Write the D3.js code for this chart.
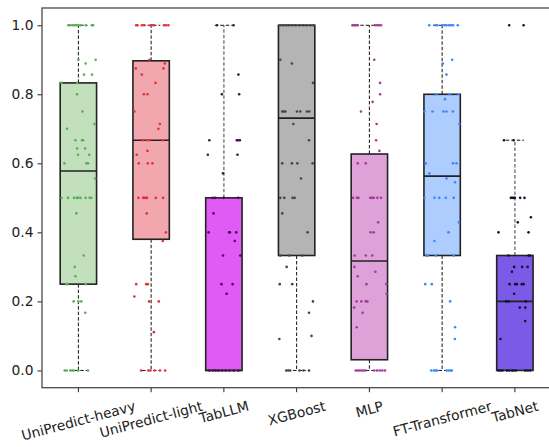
<!DOCTYPE html>
<html><head><meta charset="utf-8">
<script src="https://cdn.jsdelivr.net/npm/d3@7"></script>
<style>body{margin:0;background:#fff}svg{display:block}</style>
</head><body>
<script>
const categories = ["UniPredict-heavy","UniPredict-light","TabLLM","XGBoost","MLP","FT-Transformer","TabNet"];
const q1 =      [0.25, 0.38, 0, 0.333, 0.031, 0.333, 0];
const medians = [0.578, 0.667, 0, 0.731, 0.317, 0.563, 0.2];
const q3 =      [0.833, 0.897, 0.5, 1.0, 0.627, 0.8, 0.333];
const whiskLo = [0, 0, 0, 0, 0, 0, 0];
const whiskHi = [1, 1, 1, 1, 1, 1, 0.667];
const yTicks = [0, 0.2, 0.4, 0.6, 0.8, 1.0];
const fillColors  = ["#c2e0bb","#f2a7ae","#e05af6","#b4b4b4","#dea2d9","#adcdfe","#7a5ae6"];
const pointColors = ["#5aad55","#e0303c","#4a0a55","#454545","#a33a9c","#3a88f5","#121230"];
const whiskerColors = ["#111","#111","#888","#111","#111","#111","#888"];
// points: [value, jitter (fraction of half box width)]
const pts0 = [[1,-0.55],[1,-0.46],[1,-0.31],[1,-0.2],[1,-0.09],[1,0.02],[1,0.13],[1,0.41],[1,0.74],[1,0.81],
[0.9,0],[0.9,0.95],[0.889,0.4],[0.857,0.31],[0.857,0.75],[0.833,-0.93],[0.833,-0.07],[0.8,-0.07],[0.75,0.22],[0.714,0.88],[0.7,-0.62],[0.667,-0.16],[0.667,0.2],[0.667,0.26],[0.643,-0.07],[0.643,0.37],[0.625,-0.02],[0.625,0.6],[0.6,-0.77],[0.6,0.44],[0.6,0.53],[0.556,0.92],
[0.5,-0.93],[0.5,-0.57],[0.5,-0.24],[0.5,-0.09],[0.5,-0.02],[0.5,0.11],[0.5,0.4],[0.5,0.62],[0.5,0.71],
[0.455,-0.11],[0.333,0.29],[0.3,-0.2],[0.273,-0.16],[0.25,-0.66],[0.25,-0.6],[0.25,0.4],[0.2,-0.26],[0.2,0],[0.2,0.16],[0.167,0.38],
[0,-0.75],[0,-0.64],[0,-0.44],[0,-0.33],[0,-0.26],[0,0],[0,0.53]];
const pts1 = [[1,-0.82],[1,-0.75],[1,-0.51],[1,-0.38],[1,-0.02],[1,0.05],[1,0.16],[1,0.71],[1,0.82],[1,0.95],
[0.9,-0.09],[0.889,0.75],[0.875,-0.84],[0.875,0.68],[0.857,-0.51],[0.833,0.24],[0.8,-0.4],[0.8,-0.2],[0.75,-0.92],[0.714,0.48],[0.7,0.4],[0.667,-0.46],[0.667,-0.22],[0.667,-0.09],[0.667,0.64],[0.636,-0.2],[0.625,-0.79],[0.6,-0.68],[0.6,-0.18],[0.6,0.07],
[0.5,-0.7],[0.5,-0.44],[0.5,-0.37],[0.5,-0.29],[0.5,-0.22],[0.5,0.26],[0.5,0.66],
[0.455,-0.24],[0.4,0.81],[0.375,0.64],[0.25,-0.82],[0.25,-0.27],[0.25,-0.18],[0.214,-0.92],[0.2,-0.11],[0.2,0.42],[0.111,0.15],
[0,-0.55],[0,-0.15],[0,-0.04],[0,0.18],[0,0.49],[0,0.77]];
const pts2 = [[1,-0.38],[1,0.53],[0.857,0.8],[0.8,-0.11],[0.8,0.84],[0.667,-0.8],[0.667,0.71],[0.667,0.79],[0.667,0.88],[0.625,-0.88],[0.625,0.75],[0.571,-0.05],[0.5,-0.62],[0.5,-0.49],[0.5,-0.02],[0.5,0.79],[0.455,-0.57],[0.4,-0.84],[0.4,0.29],[0.4,0.33],[0.4,0.68],[0.375,0.6],[0.333,-0.05],[0.333,0.9],[0.25,-0.13],[0.25,0.48],[0.222,0.15],
[0,-0.8],[0,-0.6],[0,-0.45],[0,-0.3],[0,-0.1],[0,0.1],[0,0.3],[0,0.55],[0,0.8]];
const pts3 = [[1,-0.9],[1,-0.75],[1,-0.6],[1,-0.45],[1,-0.25],[1,-0.05],[1,0.15],[1,0.35],[1,0.55],[1,0.75],[1,0.92],
[0.9,-0.9],[0.889,-0.26],[0.833,0.9],[0.75,-0.79],[0.75,-0.71],[0.75,-0.62],[0.75,0.02],[0.75,0.2],[0.75,0.57],[0.75,0.7],[0.714,-0.18],[0.667,0.68],[0.6,-0.79],[0.6,-0.26],[0.6,0.04],[0.6,0.88],[0.556,0.24],[0.5,-0.9],[0.5,-0.68],[0.5,-0.22],[0.5,-0.11],[0.455,-0.79],[0.4,0.6],[0.333,-0.9],[0.333,-0.4],[0.333,0.31],[0.3,-0.55],[0.25,-0.93],[0.25,-0.24],[0.2,0.9],[0.167,0.68],[0.1,0.82],[0.091,-0.95],
[0,-0.57],[0,-0.46],[0,-0.35],[0,0.16],[0,0.38],[0,0.68]];
const pts4 = [[1,-0.93],[1,-0.86],[1,-0.79],[1,-0.71],[1,-0.64],[1,0.31],[1,0.42],[1,0.53],[1,0.64],
[0.9,0.27],[0.833,0.59],[0.8,0.59],[0.778,0.18],[0.75,-0.46],[0.714,0.4],[0.667,0.37],[0.636,0.55],[0.6,-0.64],[0.6,-0.2],
[0.5,-0.9],[0.5,-0.68],[0.5,-0.6],[0.5,0.05],[0.5,0.16],[0.5,0.24],[0.5,0.44],[0.5,0.64],
[0.429,0.48],[0.4,0.07],[0.4,0.24],[0.333,-0.81],[0.333,-0.2],[0.333,0.16],[0.3,-0.82],[0.286,0.33],[0.273,-0.64],[0.25,-0.16],[0.25,0.93],[0.222,0.95],[0.2,-0.7],[0.2,-0.44],[0.2,-0.2],[0.2,-0.11],[0.182,-0.84],[0.167,-0.37],[0.125,-0.7],
[0,-0.75],[0,-0.64],[0,-0.53],[0,-0.42],[0,-0.31],[0,-0.2],[0,0.27],[0,0.42],[0,0.57],[0,0.71],[0,0.86]];
const pts5 = [[1,-0.71],[1,-0.38],[1,-0.27],[1,0.02],[1,0.13],[1,0.24],[1,0.38],[1,0.49],[1,0.6],[1,0.86],
[0.9,0.55],[0.889,0.04],[0.857,0.24],[0.8,-0.31],[0.8,0.42],[0.8,0.9],[0.786,0.16],[0.75,-0.97],[0.75,-0.53],[0.75,0.07],[0.75,0.24],[0.75,0.59],[0.714,0.95],[0.6,-0.9],[0.6,0.6],[0.6,0.79],[0.571,-0.7],[0.556,0.24],[0.545,0.71],
[0.5,-0.97],[0.5,-0.42],[0.5,-0.16],[0.5,0.2],[0.5,0.64],[0.429,0.92],[0.4,0.35],[0.375,-0.42],[0.333,-0.86],[0.333,-0.79],[0.333,-0.35],[0.333,0.64],[0.25,-0.93],[0.25,-0.57],[0.2,0.44],[0.125,0.71],[0.091,0.7],
[0,-0.6],[0,-0.46],[0,-0.35],[0,-0.27],[0,0.24],[0,0.35],[0,0.46],[0,0.53]];
const pts6 = [[1,-0.31],[1,0.48],[0.667,-0.6],[0.667,-0.07],[0.5,-0.22],[0.5,-0.15],[0.5,-0.07],[0.5,0],[0.5,0.29],[0.5,0.53],[0.444,0.88],[0.429,0.16],[0.4,-0.9],[0.4,0.75],[0.333,-0.35],[0.333,0.75],[0.333,0.84],[0.3,-0.04],[0.3,0.4],[0.3,0.7],[0.286,-0.16],[0.25,-0.29],[0.25,0.02],[0.25,0.11],[0.25,0.38],[0.25,0.48],[0.222,-0.04],[0.2,-0.48],[0.2,-0.35],[0.2,0.6],[0.182,0.27],[0.182,0.57],[0.143,0.57],[0.091,-0.79],
[0,-0.9],[0,-0.79],[0,-0.68],[0,-0.44],[0,-0.31],[0,-0.16],[0,-0.07],[0,0.05],[0,0.57],[0,0.71],[0,0.84]];
const points = [pts0, pts1, pts2, pts3, pts4, pts5, pts6];

const W = 549, H = 447;
const mLeft = 42, mTop = 8, mBottom = 387.7, plotRight = 551.25;
const svg = d3.select("body").append("svg").attr("width", W).attr("height", H);
const x = d3.scaleBand().domain(categories).range([mLeft, plotRight]).padding(0);
const y = d3.scaleLinear().domain([-0.05, 1.05]).range([mBottom, mTop]);
const bw = x.bandwidth();
const half = bw * 0.25;
const cx = c => x(c) + bw / 2;

const g = svg.append("g");
categories.forEach((c, i) => {
  const xc = cx(c);
  const ww = whiskerColors[i] === "#888" ? 1.6 : 1;
  g.append("line").attr("x1", xc).attr("x2", xc).attr("y1", y(q3[i])).attr("y2", y(whiskHi[i]))
    .attr("stroke", whiskerColors[i]).attr("stroke-width", ww).attr("stroke-dasharray", "3.5,2");
  g.append("line").attr("x1", xc).attr("x2", xc).attr("y1", y(q1[i])).attr("y2", y(whiskLo[i]))
    .attr("stroke", whiskerColors[i]).attr("stroke-width", ww).attr("stroke-dasharray", "3.5,2");
  [whiskHi[i], whiskLo[i]].forEach(v => {
    g.append("line").attr("x1", xc - half / 2).attr("x2", xc + half / 2).attr("y1", y(v)).attr("y2", y(v))
      .attr("stroke", "#111").attr("stroke-width", 1).attr("stroke-dasharray", "3.5,2");
  });
  g.append("rect").attr("x", xc - half).attr("width", half * 2)
    .attr("y", y(q3[i])).attr("height", Math.max(0.01, y(q1[i]) - y(q3[i])))
    .attr("fill", fillColors[i]).attr("stroke", "#222").attr("stroke-width", 1.6);
  g.append("line").attr("x1", xc - half).attr("x2", xc + half).attr("y1", y(medians[i])).attr("y2", y(medians[i]))
    .attr("stroke", "#222").attr("stroke-width", 1.6);
});
categories.forEach((c, i) => {
  const xc = cx(c);
  g.selectAll(null).data(points[i]).enter().append("circle")
    .attr("cx", d => xc + d[1] * half).attr("cy", d => y(d[0]))
    .attr("r", 1.3).attr("fill", pointColors[i]);
});

const yAxis = d3.axisLeft(y).tickValues(yTicks).tickFormat(d3.format(".1f")).tickSize(4.5).tickPadding(4);
const ya = svg.append("g").attr("transform", `translate(${mLeft},0)`).call(yAxis);
ya.select(".domain").remove();
ya.selectAll(".tick line").attr("stroke", "#222").attr("stroke-width", 1);
ya.selectAll(".tick text").attr("font-family", "DejaVu Sans").attr("font-size", 13.8).attr("fill", "#222");

const xAxis = d3.axisBottom(x).tickSize(4.5).tickFormat("");
const xa = svg.append("g").attr("transform", `translate(0,${mBottom})`).call(xAxis);
xa.select(".domain").remove();
xa.selectAll(".tick line").attr("stroke", "#222").attr("stroke-width", 1);

svg.append("rect").attr("x", mLeft).attr("y", mTop).attr("width", plotRight - mLeft).attr("height", mBottom - mTop)
  .attr("fill", "none").attr("stroke", "#4a4a4a").attr("stroke-width", 1.3);

const rot = 15, rad = rot * Math.PI / 180;
categories.forEach(c => {
  const t = svg.append("text").text(c).attr("font-family", "DejaVu Sans").attr("font-size", 13.8)
    .attr("fill", "#222").attr("text-anchor", "middle").attr("dominant-baseline", "central");
  const w = t.node().getComputedTextLength();
  const h = 16;
  const yc = mBottom + 4.5 + 5.5 + (w * Math.sin(rad) + h * Math.cos(rad)) / 2;
  t.attr("transform", `translate(${cx(c)},${yc}) rotate(${-rot})`);
});
</script>
</body></html>
